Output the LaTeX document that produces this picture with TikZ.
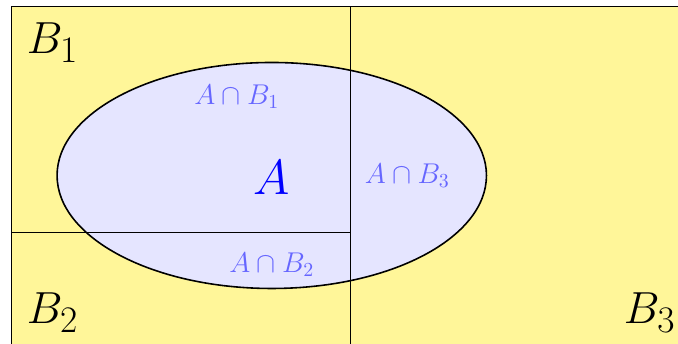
\documentclass[tikz,border=0pt]{standalone}
\usepackage{amsmath, amssymb}
\usepackage{xcolor}
\usepackage{tikz}
\usetikzlibrary{positioning}

\definecolor{setyellow}{RGB}{255,246,153}

\begin{document}
\begin{tikzpicture}
    \useasboundingbox (-0.21,0.035) rectangle (11.79,6.106);
    % Partition B_1, B_2, B_3
    \fill[setyellow] (0,0) rectangle (12,6);

    % Set A
    \filldraw[fill=blue!10, thick] (4.6,3) ellipse (3.8 and 2);

    % Borders of the partition
    \draw (0,0) rectangle (12,6);
    \draw (6,0) -- (6,6);
    \draw (0,2) -- (6,2);

    % Labels
    \node[font=\Huge, scale=0.91] (b1) at (0.72,5.35) {$B_1$};
    \node[font=\Huge, scale=0.91] (b2) at (0.72,0.57) {$B_2$};
    \node[font=\Huge, scale=0.91] (b3) at (11.29,0.57) {$B_3$};
    \node[blue, font=\Huge] (a) at (4.6,2.96) {$A$};
    \node[blue!60, font=\Large] (ab1) at (3.98,4.39) {$A\cap B_1$};
    \node[blue!60, font=\Large] (ab3) at (7.0,3.0) {$A\cap B_3$};
    \node[blue!60, font=\Large] (ab2) at (4.6,1.42) {$A\cap B_2$};
\end{tikzpicture}
\end{document}
